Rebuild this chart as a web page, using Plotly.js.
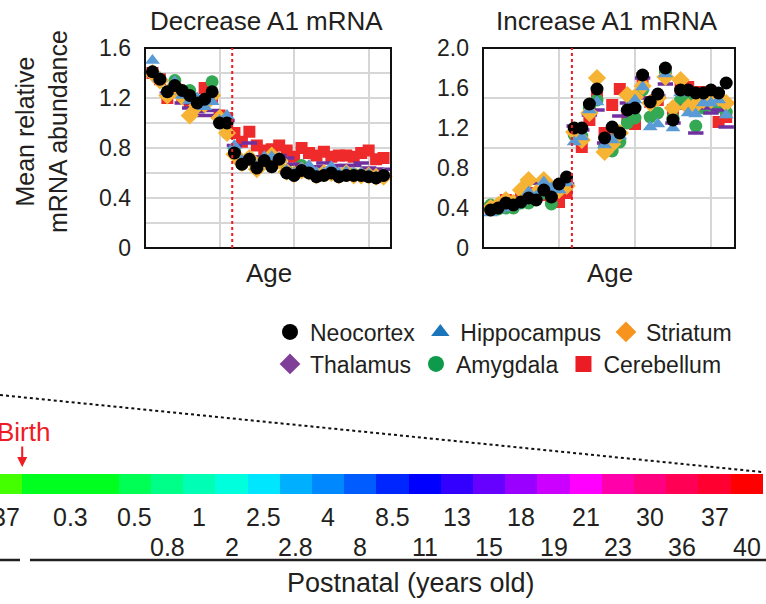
<!DOCTYPE html>
<html><head><meta charset="utf-8">
<script src="https://cdn.plot.ly/plotly-3.0.1.min.js"></script>
<style>body{margin:0;background:#fff}#chart{width:766px;height:604px}</style>
</head><body><div id="chart"></div>
<script>
// ---- sample order along the age axis (32 samples) ----
const ageIndex = [1,2,3,4,5,6,7,8,9,10,11,12,13,14,15,16,17,18,19,20,21,22,23,24,25,26,27,28,29,30,31,32];
const birthPosition = 11.7;

// ---- Decrease A1 mRNA ----
const decNeocortex   = [1.41,1.35,1.25,1.30,1.26,1.22,1.16,1.19,1.25,1.00,1.00,0.76,0.67,0.71,0.64,0.70,0.65,0.71,0.60,0.58,0.62,0.60,0.57,0.58,0.60,0.57,0.58,0.58,0.58,0.57,0.56,0.58];
const decHippocampus = [1.50,1.36,1.25,1.33,1.22,1.18,1.20,1.13,1.17,1.02,1.06,0.82,0.70,0.72,0.65,0.73,0.73,0.72,0.62,0.60,0.64,0.66,0.60,0.60,0.65,0.60,0.61,0.60,0.60,0.59,0.57,0.59];
const decStriatum    = [1.40,1.34,1.22,1.30,1.21,1.06,1.14,1.15,1.22,1.04,0.92,0.75,0.68,0.72,0.63,0.70,0.74,0.70,0.61,0.59,0.62,0.61,0.58,0.60,0.60,0.58,0.60,0.58,0.58,0.58,0.57,0.57];
const decThalamus    = [1.40,1.34,1.24,1.28,1.16,1.12,1.09,1.06,1.10,1.06,1.02,0.82,0.73,0.84,0.73,0.73,0.74,0.74,0.72,0.67,0.66,0.64,0.65,0.68,0.64,0.66,0.66,0.66,0.68,0.64,0.63,0.63];
const decAmygdala    = [1.40,1.35,1.25,1.34,1.25,1.26,1.14,1.17,1.33,1.02,0.92,0.78,0.67,0.72,0.64,0.70,0.66,0.71,0.62,0.59,0.66,0.61,0.58,0.60,0.60,0.58,0.60,0.59,0.58,0.58,0.57,0.58];
const decCerebellum  = [1.40,1.35,1.20,1.25,1.20,1.17,1.14,1.28,1.20,1.06,1.04,0.92,0.85,0.93,0.82,0.78,0.79,0.82,0.78,0.73,0.80,0.76,0.74,0.77,0.73,0.74,0.74,0.73,0.76,0.78,0.71,0.72];

// ---- Increase A1 mRNA ----
const incNeocortex   = [0.38,0.40,0.45,0.43,0.46,0.50,0.48,0.58,0.51,0.64,0.71,1.20,1.20,1.44,1.59,1.10,1.21,1.15,1.38,1.40,1.73,1.46,1.54,1.80,1.28,1.58,1.58,1.55,1.55,1.58,1.55,1.65];
const incHippocampus = [0.35,0.38,0.40,0.42,0.46,0.56,0.52,0.66,0.60,0.58,0.65,1.06,1.11,1.38,1.46,1.03,1.08,1.12,1.40,1.48,1.61,1.21,1.24,1.74,1.20,1.55,1.35,1.34,1.45,1.45,1.48,1.33];
const incStriatum    = [0.40,0.43,0.48,0.45,0.58,0.68,0.55,0.68,0.60,0.58,0.62,1.16,1.08,1.35,1.70,0.96,1.04,1.15,1.53,1.51,1.62,1.45,1.50,1.71,1.40,1.68,1.41,1.43,1.48,1.48,1.50,1.45];
const incThalamus    = [0.40,0.42,0.45,0.45,0.50,0.65,0.65,0.65,0.65,0.62,0.64,1.22,1.18,1.33,1.38,1.05,1.12,1.32,1.45,1.50,1.70,1.50,1.52,1.64,1.25,1.40,1.42,1.15,1.40,1.35,1.38,1.21];
const incAmygdala    = [0.43,0.39,0.40,0.40,0.45,0.45,0.50,0.55,0.44,0.58,0.62,1.13,1.12,1.40,1.48,1.01,0.97,1.06,1.25,1.30,1.58,1.31,1.35,1.76,1.30,1.48,1.48,1.22,1.40,1.43,1.41,1.36];
const incCerebellum  = [0.40,0.42,0.48,0.45,0.53,0.52,0.55,0.53,0.50,0.46,0.55,1.18,1.01,1.28,1.51,1.15,1.43,1.59,1.33,1.24,1.70,1.46,1.48,1.75,1.38,1.60,1.61,1.56,1.56,1.55,1.26,1.31];

// ---- age color bar ----
const ageLabels = ['37','0.3','0.5','0.8','1','2','2.5','2.8','4','8','8.5','11','13','15','18','19','21','23','30','36','37','40'];
const ageSpans  = [1,3,1,1,1,1,1,1,1,1,1,1,1,1,1,1,1,1,1,1,1,1];
const ageColors = ['#44ff00','#00ff1e','#00ff55','#00ff88','#00ffb4','#00ffdc','#00e6ff','#00b0ff','#0088ff','#005cff','#0026ff','#0000ff','#3300ff','#6600ff','#9900ff','#cc00ff','#ff00ff','#ff00aa','#ff0080','#ff0055','#ff0030','#ff0000'];
const ageLabelRow = [0,0,0,1,0,1,0,1,0,1,0,1,0,1,0,1,0,1,0,1,0,1];

const regions = ['Neocortex','Hippocampus','Striatum','Thalamus','Amygdala','Cerebellum'];

const FONT = 'Liberation Sans, Arial, sans-serif';
const NARROW = 'Liberation Sans Narrow, Arial Narrow, sans-serif';
const TXT = '#231f20';

const plotStyle = {
  Neocortex:   {symbol:'circle', size:13, color:'#000000'},
  Hippocampus: {symbol:'triangle-up', size:13, color:'#5b9bd5'},
  Striatum:    {symbol:'diamond', size:14, color:'#f7b334'},
  Thalamus:    {symbol:'line-ew', size:11, color:'#7030a0', line:{color:'#7030a0', width:3.5}},
  Amygdala:    {symbol:'circle', size:13, color:'#34a853'},
  Cerebellum:  {symbol:'square', size:12, color:'#ee2a2a'}
};
const legendStyle = {
  Neocortex:   {symbol:'circle', color:'#000000'},
  Hippocampus: {symbol:'triangle-up', color:'#1b75bb'},
  Striatum:    {symbol:'diamond', color:'#f7941d'},
  Thalamus:    {symbol:'diamond', color:'#7f3f98'},
  Amygdala:    {symbol:'circle', color:'#0d9b4b'},
  Cerebellum:  {symbol:'square', color:'#ec1c24'}
};

const decData = {Neocortex:decNeocortex, Hippocampus:decHippocampus, Striatum:decStriatum, Thalamus:decThalamus, Amygdala:decAmygdala, Cerebellum:decCerebellum};
const incData = {Neocortex:incNeocortex, Hippocampus:incHippocampus, Striatum:incStriatum, Thalamus:incThalamus, Amygdala:incAmygdala, Cerebellum:incCerebellum};

const traces = [];
const drawOrder = ['Cerebellum','Amygdala','Thalamus','Striatum','Hippocampus','Neocortex'];
[[decData,'x','y'],[incData,'x2','y2']].forEach(([data,xa,ya]) => {
  drawOrder.forEach(r => {
    const s = plotStyle[r];
    const marker = {symbol:s.symbol, size:s.size, color:s.color, line: s.line || {width:0}};
    traces.push({type:'scatter', mode:'markers', x:ageIndex, y:data[r], xaxis:xa, yaxis:ya,
      marker:marker, showlegend:false, hoverinfo:'skip', name:r, cliponaxis:false});
  });
});
// legend entries (two rows)
regions.forEach((r,i) => {
  const s = legendStyle[r];
  traces.push({type:'scatter', mode:'markers', x:[null], y:[null], xaxis:'x', yaxis:'y', name:r,
    legend: i < 3 ? 'legend' : 'legend2',
    marker:{symbol:s.symbol, size:16, color:s.color, line:{width:0}}, showlegend:true});
});

// color bar
const segStart = [];
let acc = 0;
ageSpans.forEach(w => { segStart.push(acc); acc += w; });
const segCenter = segStart.map((s,i) => s + ageSpans[i]/2);
traces.push({type:'bar', x:segCenter, y:ageSpans.map(()=>1), width:ageSpans, xaxis:'x3', yaxis:'y3',
  marker:{color:ageColors, line:{width:0}}, showlegend:false, hoverinfo:'skip'});

const W = 766, H = 604;
const px = v => v / W, py = v => 1 - v / H;

const gridC = '#d6d6d6';
const commonX = {showticklabels:false, ticks:'', showgrid:true, gridcolor:gridC, gridwidth:2, tick0:0, dtick:10,
  zeroline:false, showline:false, fixedrange:true};
const commonY = {ticks:'', zeroline:false, showline:false,
  tickfont:{family:FONT, size:23, color:TXT}, ticklabelstandoff:13, fixedrange:true};

const ann = (text, x, y, size, extra) => Object.assign({text:text, x:x, y:y, xref:'paper', yref:'paper', xanchor:'center', yanchor:'middle',
  showarrow:false, font:{family:FONT, size:size, color:TXT}}, extra || {});

const annotations = [
  ann('Decrease A1 mRNA', px(266), py(21), 26),
  ann('Increase A1 mRNA', px(607), py(21), 26),
  ann('Mean relative<br>mRNA abundance', px(41), py(132), 25, {textangle:-90}),
  ann('Age', px(269), py(273), 26),
  ann('Age', px(610), py(273), 26),
  {text:'Birth', x:1, y:py(432), xref:'x3', yref:'paper', xanchor:'center', yanchor:'middle', xshift:1, showarrow:false, font:{family:NARROW,size:26,color:'#ee1c25'}},
  {text:'', x:1, y:py(467), xref:'x3', yref:'paper', ax:0, ay:-22, showarrow:true, arrowhead:2, arrowsize:1, arrowwidth:2, arrowcolor:'#ee1c25'},
  ann('Postnatal (years old)', px(411), py(583), 27, {font:{family:NARROW, size:27, color:TXT}})
];
ageLabels.forEach((lab,i) => {
  annotations.push({text:lab, x:segCenter[i], y:py(ageLabelRow[i] ? 547 : 517), xref:'x3', yref:'paper',
    xanchor:'center', yanchor:'middle', showarrow:false, font:{family:NARROW,size:25,color:TXT}});
});

const frame = (xa, ya) => ({type:'rect', xref:xa + ' domain', yref:ya + ' domain', x0:0, x1:1, y0:0, y1:1, line:{color:'#111', width:2}, layer:'above'});
const shapes = [
  frame('x','y'), frame('x2','y2'),
  {type:'line', xref:'x', yref:'y domain', x0:birthPosition, x1:birthPosition, y0:0, y1:1, line:{color:'#ee1c25', width:2, dash:'dot'}},
  {type:'line', xref:'x2', yref:'y2 domain', x0:birthPosition, x1:birthPosition, y0:0, y1:1, line:{color:'#ee1c25', width:2, dash:'dot'}},
  {type:'line', xref:'paper', yref:'paper', x0:px(0), y0:py(395), x1:px(762), y1:py(472), line:{color:'#111', width:2, dash:'dot'}},
  {type:'line', xref:'paper', yref:'paper', x0:px(0), y0:py(560), x1:px(20), y1:py(560), line:{color:'#231f20', width:2.5}},
  {type:'line', xref:'paper', yref:'paper', x0:px(30), y0:py(560), x1:px(766), y1:py(560), line:{color:'#231f20', width:2.5}}
];

const layout = {
  width:W, height:H, margin:{l:0,r:0,t:0,b:0}, paper_bgcolor:'#fff', plot_bgcolor:'#fff',
  font:{family:FONT, color:TXT},
  xaxis: Object.assign({}, commonX, {domain:[px(145), px(391)], range:[0, 33]}),
  yaxis: Object.assign({}, commonY, {domain:[py(248), py(48)], range:[0,1.6], tickvals:[0,0.4,0.8,1.2,1.6], ticktext:['0','0.4','0.8','1.2','1.6'],
    showgrid:true, gridcolor:gridC, gridwidth:2, minor:{tick0:0, dtick:0.2, showgrid:true, gridcolor:gridC, gridwidth:2}}),
  xaxis2: Object.assign({}, commonX, {domain:[px(483), px(735)], range:[0, 33.16], anchor:'y2'}),
  yaxis2: Object.assign({}, commonY, {domain:[py(248), py(48)], range:[0,2.0], anchor:'x2', tickvals:[0,0.4,0.8,1.2,1.6,2.0], ticktext:['0','0.4','0.8','1.2','1.6','2.0'],
    showgrid:false, minor:{tick0:0, dtick:0.5, showgrid:true, gridcolor:gridC, gridwidth:2}}),
  xaxis3: {domain:[0,1], range:[0.31, 0.31 + 766/32.2], anchor:'y3', visible:false, fixedrange:true},
  yaxis3: {domain:[py(494), py(474)], range:[0,1], anchor:'x3', visible:false, fixedrange:true},
  bargap:0,
  legend: {orientation:'h', x:px(270), xanchor:'left', y:py(332), yanchor:'middle', bgcolor:'rgba(0,0,0,0)',
    font:{family:FONT, size:23, color:TXT}, itemclick:false, itemdoubleclick:false},
  legend2: {orientation:'h', x:px(270), xanchor:'left', y:py(364), yanchor:'middle', bgcolor:'rgba(0,0,0,0)',
    font:{family:FONT, size:23, color:TXT}, itemclick:false, itemdoubleclick:false},
  annotations:annotations, shapes:shapes, showlegend:true
};

Plotly.newPlot('chart', traces, layout, {displayModeBar:false, staticPlot:true});
</script>
</body></html>
